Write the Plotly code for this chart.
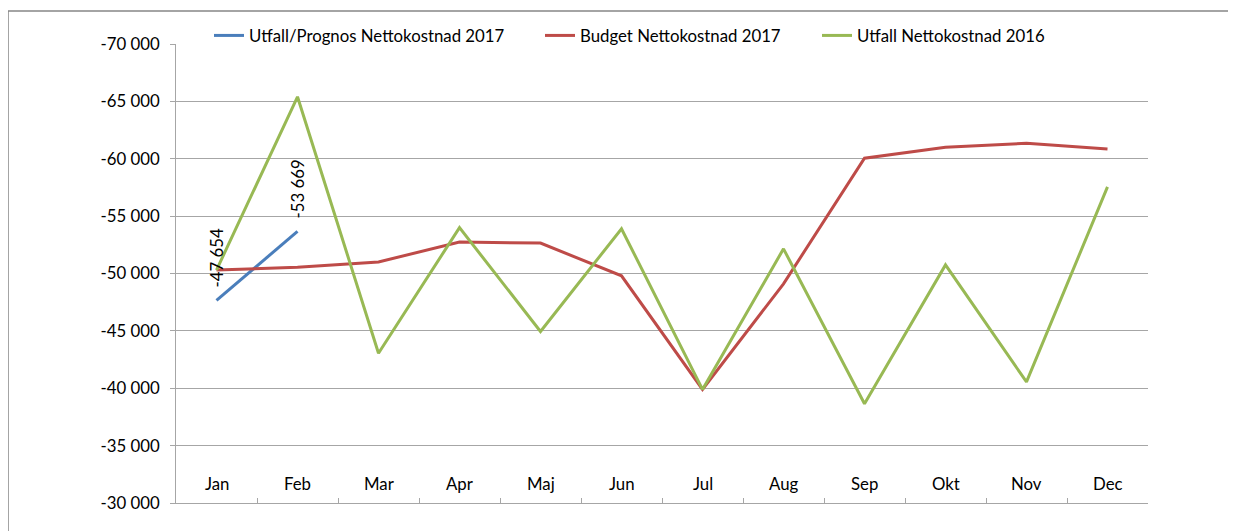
import plotly.graph_objects as go

months = ["Jan", "Feb", "Mar", "Apr", "Maj", "Jun", "Jul", "Aug", "Sep", "Okt", "Nov", "Dec"]
utfall_2017 = [-47654, -53669]
budget_2017 = [-50300, -50550, -51000, -52750, -52650, -49800, -39900, -49100, -60050, -61000, -61350, -60850]
utfall_2016 = [-50300, -65400, -43050, -54000, -44950, -53900, -39900, -52150, -38650, -50750, -40550, -57550]
y_ticks = [-70000, -65000, -60000, -55000, -50000, -45000, -40000, -35000, -30000]

names = ["Utfall/Prognos Nettokostnad 2017", "Budget Nettokostnad 2017", "Utfall Nettokostnad 2016"]
colors = ["#4A7EBB", "#BE4B48", "#98B954"]

FONT = "Lato"
FS = 16.8

# page body has an 8px margin: work in figure coordinates
OFF = 8
FW, FH = 1236 - OFF, 531 - OFF
L, T = 176 - OFF, 44 - OFF
W, H = 972, 459
R, B = FW - L - W, FH - T - H

def fmt(v):
    s = f"{abs(v):,}".replace(",", " ")
    return ("-" if v < 0 else "") + s

fig = go.Figure()
fig.add_trace(go.Scatter(x=months[:len(utfall_2017)], y=utfall_2017, mode="lines", name=names[0],
                         line=dict(color=colors[0], width=3), legend="legend"))
fig.add_trace(go.Scatter(x=months, y=budget_2017, mode="lines", name=names[1],
                         line=dict(color=colors[1], width=3), legend="legend2"))
fig.add_trace(go.Scatter(x=months, y=utfall_2016, mode="lines", name=names[2],
                         line=dict(color=colors[2], width=3), legend="legend3"))

for m, v in zip(months, utfall_2017):
    fig.add_annotation(x=m, y=v, xref="x", yref="y", text=fmt(v), showarrow=False,
                       textangle=-90, yanchor="bottom", xanchor="center", yshift=11,
                       font=dict(family=FONT, size=FS, color="#000000"))

# category labels sit inside the plot, just above the bottom axis line
for m in months:
    fig.add_annotation(x=m, y=0, xref="x", yref="paper", text=m, showarrow=False,
                       yanchor="middle", xanchor="center", yshift=20,
                       font=dict(family=FONT, size=FS, color="#000000"))

# outer chart border (reference pixel x=8, y=11)
fig.add_shape(type="rect", xref="paper", yref="paper",
              x0=(8 - OFF - L) / W, x1=1.3, y0=-0.3, y1=(T + H - (11 - OFF)) / H,
              line=dict(color="#868686", width=1.5), fillcolor="rgba(0,0,0,0)", layer="below")

def leg(px):
    # px: reference pixel of the legend box's left edge
    return dict(orientation="h", x=(px - 176) / W, xanchor="left", y=1.0 - 9 / H, yanchor="bottom",
                font=dict(family=FONT, size=FS, color="#000000"), bgcolor="rgba(0,0,0,0)",
                itemwidth=30)

fig.update_layout(
    width=FW, height=FH,
    margin=dict(l=L, r=R, t=T, b=B, autoexpand=False),
    paper_bgcolor="white", plot_bgcolor="white",
    font=dict(family=FONT, size=FS, color="#000000"),
    showlegend=True,
    legend=leg(209), legend2=leg(540), legend3=leg(817),
    xaxis=dict(type="category", range=[-0.5, 11.5], showgrid=False, showline=True,
               linecolor="#A6A6A6", linewidth=1, showticklabels=False,
               ticks="inside", tickson="boundaries", ticklen=5, tickcolor="#A6A6A6",
               fixedrange=True),
    yaxis=dict(range=[-30000, -70000], tickvals=y_ticks, ticktext=[fmt(v) for v in y_ticks],
               showgrid=True, gridcolor="#A6A6A6", gridwidth=1, showline=True,
               linecolor="#A6A6A6", linewidth=1,
               ticks="outside", ticklen=5, tickcolor="#A6A6A6", zeroline=False,
               ticklabelstandoff=7,
               tickfont=dict(family=FONT, size=FS, color="#000000")),
)

fig.write_html("out.html")
